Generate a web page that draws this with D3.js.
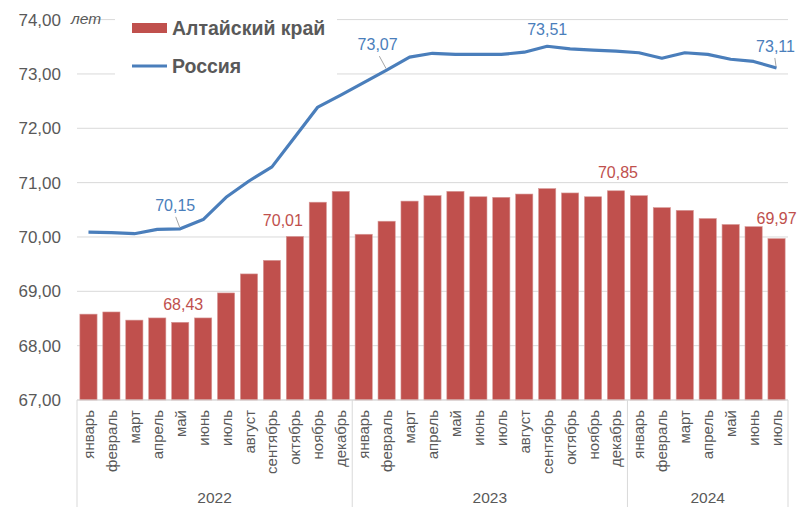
<!DOCTYPE html>
<html><head><meta charset="utf-8">
<script src="https://cdn.jsdelivr.net/npm/d3@7"></script>
<style>body{margin:0;background:#fff}svg{display:block}text{font-family:"Liberation Sans",Arial,sans-serif}</style>
</head><body><svg id="c" width="798" height="507"></svg>
<script>
const months = ["январь","февраль","март","апрель","май","июнь","июль","август","сентябрь","октябрь","ноябрь","декабрь",
"январь","февраль","март","апрель","май","июнь","июль","август","сентябрь","октябрь","ноябрь","декабрь",
"январь","февраль","март","апрель","май","июнь","июль"];
const years = ["2022","2023","2024"];
const yearSpans = [12, 12, 7];
const altai = [68.58,68.62,68.47,68.51,68.43,68.51,68.97,69.32,69.57,70.01,70.64,70.84,
70.05,70.29,70.66,70.76,70.84,70.74,70.73,70.79,70.89,70.81,70.74,70.85,
70.76,70.54,70.49,70.34,70.23,70.19,69.97];
const russia = [70.09,70.08,70.06,70.14,70.15,70.32,70.73,71.03,71.29,71.84,72.39,72.61,
72.84,73.07,73.31,73.38,73.36,73.36,73.36,73.40,73.51,73.46,73.44,73.42,
73.39,73.29,73.39,73.36,73.27,73.23,73.11];
const yTicks = [67,68,69,70,71,72,73,74];
const seriesNames = ["Алтайский край","Россия"];
const unitLabel = "лет";
const russiaLabelIdx = [4,13,20,30];
const altaiLabelIdx = [4,9,23,30];

const red = "#c0504d", blue = "#4a7ebb", gray = "#595959", grid = "#d9d9d9";
const svg = d3.select("#c");
const L = 77, R = 788, T = 19.6, B = 400;
const x = d3.scaleBand().domain(d3.range(months.length)).range([L, R]).paddingInner(0.25).paddingOuter(0.125);
const y = d3.scaleLinear().domain([67, 74]).range([B, T]);
const fmt = v => v.toFixed(2).replace(".", ",");
const cx = i => x(i) + x.bandwidth() / 2;

// gridlines
svg.append("g").selectAll("line").data(yTicks).join("line")
  .attr("x1", L).attr("x2", R).attr("y1", d => y(d)).attr("y2", d => y(d))
  .attr("stroke", grid).attr("stroke-width", 1);
// y labels
svg.append("g").selectAll("text").data(yTicks).join("text")
  .attr("x", 61).attr("y", d => y(d)).attr("dy", "0.36em").attr("text-anchor", "end")
  .attr("fill", gray).attr("font-size", 17).text(fmt);
svg.append("text").attr("x", 71).attr("y", 24).attr("font-style", "italic").attr("font-size", 15.5)
  .attr("fill", gray).text(unitLabel);

// legend background + legend
svg.append("rect").attr("x", 115).attr("y", 8).attr("width", 222).attr("height", 76).attr("fill", "#fff");
svg.append("rect").attr("x", 132).attr("y", 23).attr("width", 35).attr("height", 10).attr("fill", red);
svg.append("text").attr("x", 172).attr("y", 35).attr("font-size", 19.5).attr("font-weight", "bold").attr("fill", gray).text(seriesNames[0]);
svg.append("line").attr("x1", 132).attr("x2", 167).attr("y1", 66).attr("y2", 66).attr("stroke", blue).attr("stroke-width", 3);
svg.append("text").attr("x", 172).attr("y", 73).attr("font-size", 19.5).attr("font-weight", "bold").attr("fill", gray).text(seriesNames[1]);

// bars
svg.append("g").selectAll("rect").data(altai).join("rect")
  .attr("x", (d, i) => x(i)).attr("width", x.bandwidth())
  .attr("y", d => y(d)).attr("height", d => B - y(d))
  .attr("fill", red).attr("stroke", "#d79a98").attr("stroke-width", 0.6);

// axis
svg.append("line").attr("x1", L).attr("x2", R).attr("y1", B).attr("y2", B).attr("stroke", grid);
let acc = 0;
const seps = [0];
yearSpans.forEach(s => { acc += s; seps.push(acc); });
const sepX = d => d === months.length ? R : (d === 0 ? L : x(d) - x.step() * x.paddingInner() / 2);
svg.append("g").selectAll("line").data(seps).join("line")
  .attr("x1", sepX).attr("x2", sepX)
  .attr("y1", B).attr("y2", 507).attr("stroke", grid);
svg.append("g").selectAll("text").data(months).join("text")
  .attr("transform", (d, i) => `translate(${cx(i) + 5.5},${B + 10}) rotate(-90)`)
  .attr("text-anchor", "end").attr("font-size", 15).attr("fill", gray).text(d => d);
svg.append("g").selectAll("text").data(years).join("text")
  .attr("x", (d, k) => (sepX(seps[k]) + sepX(seps[k + 1])) / 2)
  .attr("y", 503).attr("text-anchor", "middle").attr("font-size", 15.5).attr("fill", gray).text(d => d);

// line
svg.append("path").datum(russia)
  .attr("d", d3.line().x((d, i) => cx(i)).y(d => y(d)))
  .attr("fill", "none").attr("stroke", blue).attr("stroke-width", 3.2).attr("stroke-linejoin", "round");

// labels
const rOff = [[-5, -18, true], [-9, -20, true], [0, -11, false], [-1, -16, true]];
russiaLabelIdx.forEach((i, k) => {
  const px = cx(i), py = y(russia[i]);
  const [dx, dy, lead] = rOff[k];
  if (lead) svg.append("line").attr("x1", px + dx * 0.7 - 1).attr("y1", py + dy + 6)
    .attr("x2", px - 0.5).attr("y2", py - 1.5).attr("stroke", "#a6a6a6").attr("stroke-width", 1);
  svg.append("text").attr("x", px + dx).attr("y", py + dy).attr("text-anchor", "middle")
    .attr("font-size", 16).attr("fill", blue).text(fmt(russia[i]));
});
const aOff = [[3, -12.5], [-12, -10], [2, -12.5], [0, -15]];
altaiLabelIdx.forEach((i, k) => {
  const [dx, dy] = aOff[k];
  svg.append("text").attr("x", cx(i) + dx).attr("y", y(altai[i]) + dy).attr("text-anchor", "middle")
    .attr("font-size", 16).attr("fill", red).text(fmt(altai[i]));
});
</script></body></html>
